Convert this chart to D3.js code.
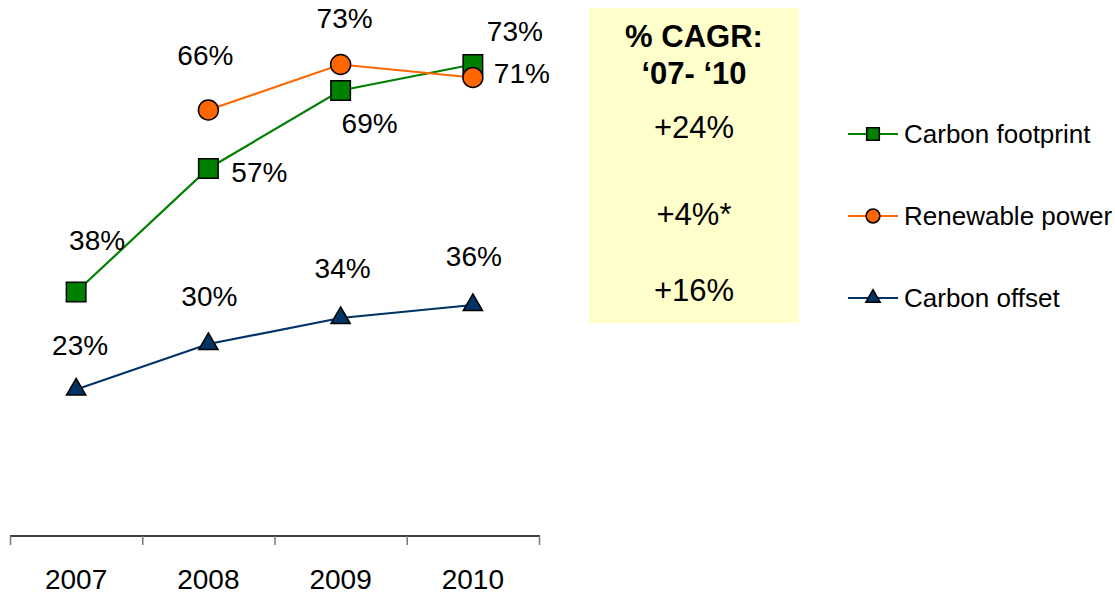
<!DOCTYPE html>
<html>
<head>
<meta charset="utf-8">
<script src="https://cdn.jsdelivr.net/npm/d3@7"></script>
<style>
  body { margin: 0; background: #fff; }
  svg { display: block; font-family: "Liberation Sans", Arial, sans-serif; }
</style>
</head>
<body>
<svg></svg>
<script>
// data
var years = ["2007", "2008", "2009", "2010"];
var seriesNames = ["Carbon footprint", "Renewable power", "Carbon offset"];
var footprint = [38, 57, 69, 73];
var renewable = [null, 66, 73, 71];
var offset = [23, 30, 34, 36];
var cagrTitle = ["% CAGR:", "\u201807- \u201810"];
var cagrValues = ["+24%", "+4%*", "+16%"];

var svgWidth = 1115, svgHeight = 594;
var svg = d3.select("svg").attr("width", svgWidth).attr("height", svgHeight);

var xScale = d3.scaleBand().domain(years).range([10, 539]);
var yScale = d3.scaleLinear().domain([0, 100]).range([539, -111]);

function cx(y) { return xScale(y) + xScale.bandwidth() / 2; }

// styles per series
var series = [
  {name: seriesNames[0], values: footprint, stroke: "#008000", fill: "#008000", symbol: d3.symbolSquare, size: 380, legSize: 160,
   // label offsets from marker centre
   lab: [[21, -52], [51, 4], [29, 33], [42, -33]]},
  {name: seriesNames[1], values: renewable, stroke: "#FF6600", fill: "#FF6600", symbol: d3.symbolCircle, size: 314, legSize: 150,
   lab: [[0, 0], [-3, -55], [4, -46], [49, -4]]},
  {name: seriesNames[2], values: offset, stroke: "#003366", fill: "#003366", symbol: d3.symbolTriangle, size: 160, legSize: 90,
   lab: [[4, -44], [1, -48], [2, -50], [1, -49]]}
];

// x axis
var axisG = svg.append("g").attr("transform", "translate(0,536)");
axisG.append("line").attr("x1", 10).attr("x2", 540).attr("y1", 0).attr("y2", 0)
  .attr("stroke", "#000").attr("stroke-width", 1.5);
var tickPos = years.map(function(y) { return xScale(y); }).concat([xScale.range()[1]]);
axisG.selectAll(".tk").data(tickPos).enter().append("line")
  .attr("x1", function(d) { return d + 0.5; }).attr("x2", function(d) { return d + 0.5; })
  .attr("y1", 0).attr("y2", 9)
  .attr("stroke", "#777").attr("stroke-width", 1.5);
svg.selectAll(".yr").data(years).enter().append("text")
  .attr("x", function(d) { return cx(d); })
  .attr("y", 589)
  .attr("text-anchor", "middle")
  .attr("font-size", 28)
  .text(function(d) { return d; });

// lines, markers, labels
var line = d3.line()
  .defined(function(d) { return d.v != null; })
  .x(function(d) { return cx(d.year); })
  .y(function(d) { return yScale(d.v); });

series.forEach(function(s) {
  var pts = years.map(function(y, i) { return {year: y, v: s.values[i], lab: s.lab[i]}; });
  svg.append("path").datum(pts)
    .attr("d", line)
    .attr("fill", "none")
    .attr("stroke", s.stroke)
    .attr("stroke-width", 2.2);
});

series.forEach(function(s) {
  var pts = years.map(function(y, i) { return {year: y, v: s.values[i], lab: s.lab[i]}; })
    .filter(function(d) { return d.v != null; });
  var g = svg.append("g");
  g.selectAll("path").data(pts).enter().append("path")
    .attr("d", d3.symbol().type(s.symbol).size(s.size))
    .attr("transform", function(d) { return "translate(" + cx(d.year) + "," + yScale(d.v) + ")"; })
    .attr("fill", s.fill)
    .attr("stroke", "#000")
    .attr("stroke-width", 1.5);
  g.selectAll("text").data(pts).enter().append("text")
    .attr("x", function(d) { return cx(d.year) + d.lab[0]; })
    .attr("y", function(d) { return yScale(d.v) + d.lab[1]; })
    .attr("dy", "0.35em")
    .attr("text-anchor", "middle")
    .attr("font-size", 28)
    .text(function(d) { return d.v + "%"; });
});

// CAGR box
var box = svg.append("g");
box.append("rect").attr("x", 589).attr("y", 8).attr("width", 210).attr("height", 315)
  .attr("fill", "#FFFFCC");
box.selectAll(".t").data(cagrTitle).enter().append("text")
  .attr("x", 694)
  .attr("y", function(d, i) { return 36 + i * 37; })
  .attr("dy", "0.35em")
  .attr("text-anchor", "middle")
  .attr("font-size", 31)
  .attr("font-weight", "bold")
  .text(function(d) { return d; });
var cagrY = [127, 214, 290];
box.selectAll(".v").data(cagrValues).enter().append("text")
  .attr("x", 694)
  .attr("y", function(d, i) { return cagrY[i]; })
  .attr("dy", "0.35em")
  .attr("text-anchor", "middle")
  .attr("font-size", 31)
  .text(function(d) { return d; });

// legend
var legY = [134, 216, 298];
var leg = svg.append("g");
series.forEach(function(s, i) {
  var r = leg.append("g").attr("transform", "translate(848," + legY[i] + ")");
  r.append("line").attr("x1", 0).attr("x2", 50).attr("y1", 0).attr("y2", 0)
    .attr("stroke", s.stroke).attr("stroke-width", 2);
  r.append("path").attr("d", d3.symbol().type(s.symbol).size(s.legSize))
    .attr("transform", "translate(25,0)")
    .attr("fill", s.fill).attr("stroke", "#000").attr("stroke-width", 1.5);
  r.append("text").attr("x", 56).attr("y", 0).attr("dy", "0.35em")
    .attr("font-size", 26)
    .text(s.name);
});
</script>
</body>
</html>
